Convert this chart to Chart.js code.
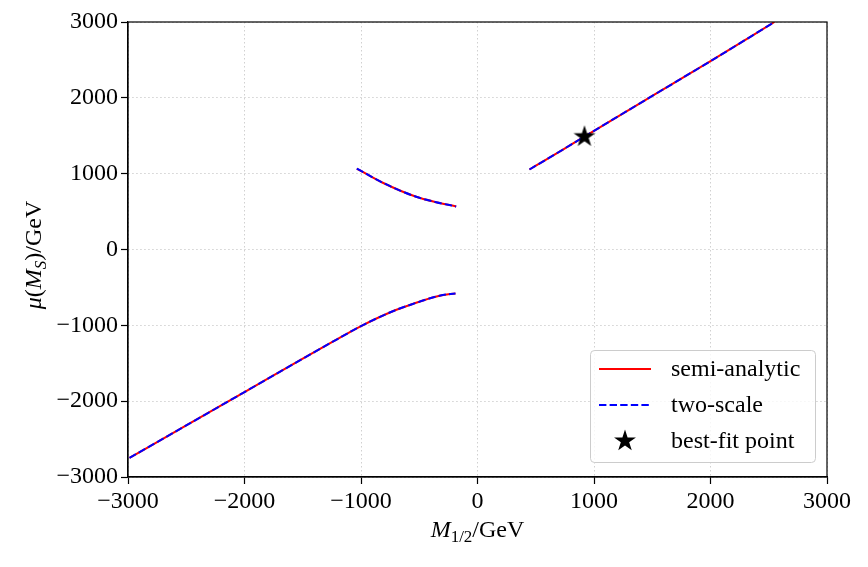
<!DOCTYPE html>
<html><head><meta charset="utf-8">
<script src="https://cdn.jsdelivr.net/npm/chart.js@4"></script>
<style>html,body{margin:0;padding:0;background:#fff}#wrap{width:868px;height:567px}</style>
</head><body><div id="wrap"><canvas id="c" width="868" height="567"></canvas></div>
<script>
// ---- data ----
const seriesNames = ['semi-analytic', 'two-scale', 'best-fit point'];
const xTicks = [-3000, -2000, -1000, 0, 1000, 2000, 3000];
const yTicks = [-3000, -2000, -1000, 0, 1000, 2000, 3000];

// lower-left branch
const lowerX = [-2987, -2500, -2000, -1500, -1242, -1000, -727, -526, -400, -326, -250, -189];
const lowerY = [-2748, -2320, -1880, -1440, -1216, -1010, -814, -703, -640, -610, -590, -580];
// middle branch (negative M1/2, positive mu)
const middleX = [-1036, -813, -526, -355, -183];
const middleY = [1068, 880, 695, 624, 567];
// upper-right branch
const upperX = [446, 600, 800, 1000, 1500, 2000, 2549];
const upperY = [1055, 1195, 1380, 1565, 2025, 2484, 3000];

// two-scale series (visually identical to semi-analytic)
const twoLowerY = [-2748, -2320, -1880, -1440, -1216, -1010, -814, -703, -640, -610, -590, -580];
const twoMiddleY = [1068, 880, 695, 624, 567];
const twoUpperY = [1055, 1195, 1380, 1565, 2025, 2484, 3000];

const bestFitX = [918];
const bestFitY = [1500];

// ---- build point lists with gaps between branches ----
function branchPoints(xs, ys) { return xs.map((x, i) => ({x: x, y: ys[i]})); }
function joinBranches(list) {
  const out = [];
  list.forEach((b, i) => {
    if (i > 0) out.push({x: (b[0].x + out[out.length - 1].x) / 2, y: null});
    b.forEach(p => out.push(p));
  });
  return out;
}
const semiData = joinBranches([branchPoints(lowerX, lowerY), branchPoints(middleX, middleY), branchPoints(upperX, upperY)]);
const twoData = joinBranches([branchPoints(lowerX, twoLowerY), branchPoints(middleX, twoMiddleY), branchPoints(upperX, twoUpperY)]);
const bestData = branchPoints(bestFitX, bestFitY);

const SERIF = '"Liberation Serif", "Times New Roman", serif';

function starPath(ctx, cx, cy, R) {
  const r = R * 0.381966;
  ctx.beginPath();
  for (let i = 0; i < 10; i++) {
    const rad = (i % 2 === 0) ? R : r;
    const a = -Math.PI / 2 + i * Math.PI / 5;
    const px = cx + rad * Math.cos(a), py = cy + rad * Math.sin(a);
    if (i === 0) ctx.moveTo(px, py); else ctx.lineTo(px, py);
  }
  ctx.closePath();
}
const starCanvas = document.createElement('canvas');
starCanvas.width = 26; starCanvas.height = 26;
(function () {
  const sc = starCanvas.getContext('2d');
  sc.fillStyle = '#000';
  starPath(sc, 13, 14, 11.5);
  sc.fill();
})();

function fmt(v) { return v < 0 ? '\u2212' + Math.abs(v) : String(v); }

function drawRich(ctx, segs, cx, cy, angle) {
  ctx.save();
  ctx.translate(cx, cy);
  ctx.rotate(angle);
  ctx.fillStyle = '#000';
  ctx.textBaseline = 'alphabetic';
  ctx.textAlign = 'left';
  const fontOf = s => (s.italic ? 'italic ' : '') + (s.sub ? 17 : 24) + 'px ' + SERIF;
  let total = 0;
  segs.forEach(s => { ctx.font = fontOf(s); s.w = ctx.measureText(s.text).width; total += s.w; });
  let x = -total / 2;
  segs.forEach(s => {
    ctx.font = fontOf(s);
    ctx.fillText(s.text, x, 8 + (s.sub ? 5 : 0));
    x += s.w;
  });
  ctx.restore();
}

const extras = {
  id: 'extras',
  afterDraw(chart) {
    const ctx = chart.ctx;
    const a = chart.chartArea;
    // frame
    ctx.save();
    ctx.strokeStyle = '#000';
    ctx.lineWidth = 1.2;
    ctx.strokeRect(a.left, a.top, a.right - a.left, a.bottom - a.top);
    ctx.restore();

    // legend
    ctx.save();
    const bx = 590.5, by = 350.5, bw = 225, bh = 112;
    ctx.beginPath();
    ctx.roundRect(bx, by, bw, bh, 4);
    ctx.fillStyle = 'rgba(255,255,255,0.8)';
    ctx.fill();
    ctx.strokeStyle = '#cccccc';
    ctx.lineWidth = 1;
    ctx.stroke();
    const rows = [369, 405, 441];
    ctx.lineWidth = 2;
    ctx.strokeStyle = '#ff0000';
    ctx.beginPath(); ctx.moveTo(599, rows[0]); ctx.lineTo(651, rows[0]); ctx.stroke();
    ctx.strokeStyle = '#0000ff';
    ctx.setLineDash([7.4, 3.2]);
    ctx.beginPath(); ctx.moveTo(599, rows[1]); ctx.lineTo(651, rows[1]); ctx.stroke();
    ctx.setLineDash([]);
    ctx.drawImage(starCanvas, 625 - 13, rows[2] - 14);
    ctx.fillStyle = '#000';
    ctx.font = '24px ' + SERIF;
    ctx.textBaseline = 'middle';
    ctx.textAlign = 'left';
    seriesNames.forEach((n, i) => ctx.fillText(n, 671, rows[i] + 1));
    ctx.restore();

    // axis titles
    drawRich(ctx, [
      {text: 'M', italic: true},
      {text: '1/2', sub: true},
      {text: '/GeV'}
    ], (a.left + a.right) / 2, 529, 0);
    drawRich(ctx, [
      {text: '\u03bc', italic: true},
      {text: '('},
      {text: 'M', italic: true},
      {text: 'S', italic: true, sub: true},
      {text: ')/GeV'}
    ], 33, 255, -Math.PI / 2);
  }
};

const axisCommon = {
  type: 'linear',
  min: -3000, max: 3000,
  ticks: {
    color: '#000',
    font: {family: SERIF, size: 24},
    padding: 3,
    callback: v => fmt(v)
  },
  grid: {
    color: '#d0d0d0', lineWidth: 1,
    drawTicks: true, tickLength: 7, tickColor: '#000', tickWidth: 1.2
  },
  border: {display: true, color: '#000', width: 1.2, dash: [1.5, 2.5]},
  title: {display: false}
};

new Chart(document.getElementById('c'), {
  type: 'line',
  data: {
    datasets: [
      {label: seriesNames[2], data: bestData, showLine: false, pointStyle: starCanvas, pointRadius: 11, order: 0, borderWidth: 0, borderColor: '#000', backgroundColor: '#000'},
      {label: seriesNames[1], data: twoData, borderColor: '#0000ff', borderWidth: 2, borderDash: [7.4, 3.2], pointRadius: 0, spanGaps: false, fill: false, order: 1, cubicInterpolationMode: 'monotone'},
      {label: seriesNames[0], data: semiData, borderColor: '#ff0000', borderWidth: 2, pointRadius: 0, spanGaps: false, fill: false, order: 2, cubicInterpolationMode: 'monotone'}
    ]
  },
  options: {
    responsive: false,
    animation: false,
    devicePixelRatio: 1,
    layout: {padding: {top: 22, right: 41, left: 0, bottom: 0}},
    plugins: {legend: {display: false}, tooltip: {enabled: false}},
    scales: {
      x: Object.assign({}, axisCommon, {
        position: 'bottom',
        afterBuildTicks: s => { s.ticks = xTicks.map(v => ({value: v})); },
        afterFit: s => { s.height = 90; }
      }),
      y: Object.assign({}, axisCommon, {
        position: 'left',
        afterBuildTicks: s => { s.ticks = yTicks.map(v => ({value: v})); },
        afterFit: s => { s.width = 128; }
      })
    }
  },
  plugins: [extras]
});
</script>
</body></html>
